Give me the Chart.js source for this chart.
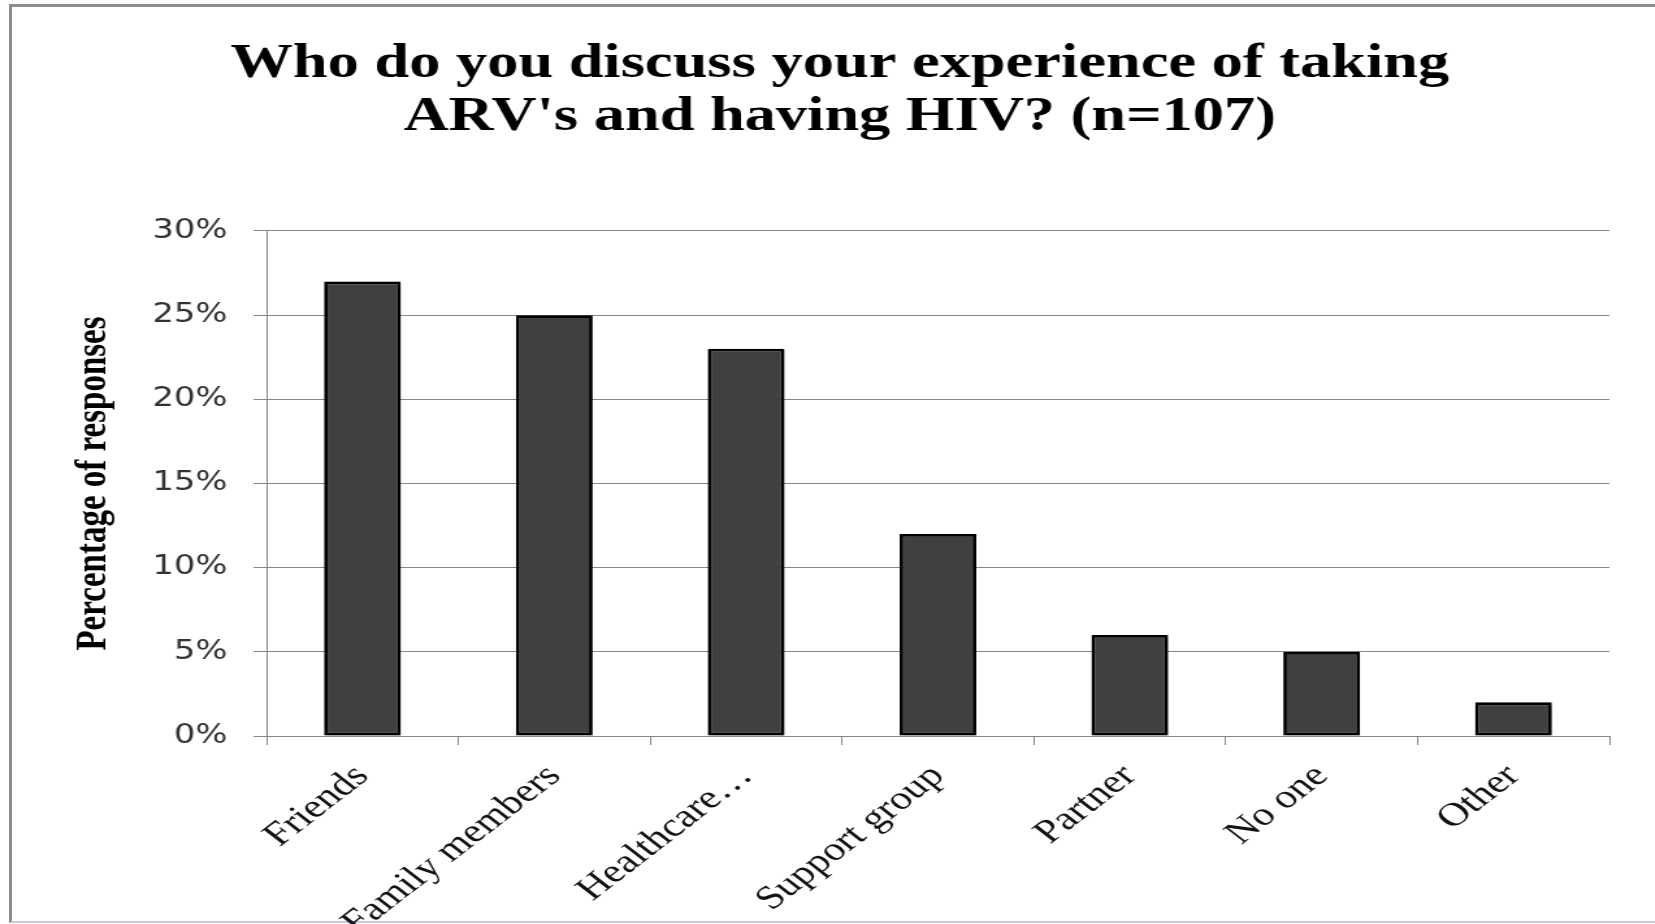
<!DOCTYPE html>
<html>
<head>
<meta charset="utf-8">
<script src="https://cdn.jsdelivr.net/npm/chart.js@4.4.1/dist/chart.umd.min.js"></script>
<style>
  html, body { margin: 0; padding: 0; background: #fff; overflow: hidden; width: 1655px; height: 924px; }
  #frame {
    position: absolute; left: 9px; top: 4px; width: 1700px; height: 914px;
    border-left: 3px solid #8c8c8c; border-top: 3px solid #8c8c8c; border-bottom: 2px solid #cfc6de;
  }
  /* the figure is drawn on a narrower canvas and widened to fill the frame */
  #chart { position: absolute; left: 0; top: 0; transform: scaleX(1.3); transform-origin: 0 0; }
</style>
</head>
<body>
<div id="frame"></div>
<canvas id="chart" width="1292" height="924"></canvas>
<script>
const titleLines = ["Who do you discuss your experience of taking", "ARV's and having HIV? (n=107)"];
const categories = ["Friends", "Family members", "Healthcare\u2026", "Support group", "Partner", "No one", "Other"];
const percentages = [27, 25, 23, 12, 6, 5, 2];
const yAxisTitle = "Percentage of responses";
const yTickValues = [0, 5, 10, 15, 20, 25, 30];

// soft drop shadow under the bars
const barShadow = {
  id: 'barShadow',
  beforeDatasetsDraw(chart) {
    const c = chart.ctx;
    c.save();
    c.shadowColor = 'rgba(0,0,0,0.35)';
    c.shadowBlur = 5;
    c.shadowOffsetX = 2;
    c.shadowOffsetY = 2;
  },
  afterDatasetsDraw(chart) { chart.ctx.restore(); }
};

new Chart(document.getElementById('chart'), {
  type: 'bar',
  data: {
    labels: categories,
    datasets: [{
      data: percentages,
      backgroundColor: '#404040',
      borderColor: '#000000',
      borderWidth: 2.8,
      borderSkipped: false,
      categoryPercentage: 1.0,
      barPercentage: 0.4
    }]
  },
  plugins: [barShadow],
  options: {
    responsive: false,
    animation: false,
    devicePixelRatio: 1,
    layout: { padding: { left: 54, right: 54, top: 0, bottom: 0 } },
    plugins: {
      legend: { display: false },
      tooltip: { enabled: false },
      title: {
        display: true,
        text: titleLines,
        color: '#000',
        font: { family: 'Liberation Serif', size: 48, weight: 'bold', lineHeight: 1.104 },
        padding: { top: 38.5, bottom: 86.5 }
      }
    },
    scales: {
      x: {
        grid: { display: true, drawOnChartArea: false, drawTicks: true, tickLength: 9, color: '#868686', lineWidth: 1, offset: true },
        border: { display: true, color: '#868686', width: 1 },
        ticks: {
          autoSkip: false, minRotation: 45, maxRotation: 45, padding: 12, color: '#111',
          font: { family: 'Liberation Serif', size: 33, lineHeight: 1.2 }
        },
        afterFit(scale) { scale.height = 188; }
      },
      y: {
        min: yTickValues[0],
        max: yTickValues[yTickValues.length - 1],
        afterBuildTicks(scale) { scale.ticks = yTickValues.map(v => ({ value: v })); },
        ticks: {
          padding: 20, color: '#333',
          font: { family: 'DejaVu Sans', size: 26 },
          callback: v => v + '%'
        },
        grid: { color: '#868686', lineWidth: 1, tickLength: 10, drawTicks: true },
        border: { display: true, color: '#868686', width: 1 },
        title: {
          display: true, text: yAxisTitle, color: '#000',
          font: { family: 'Liberation Serif', size: 33, weight: 'bold', lineHeight: 1 },
          padding: { top: 1.5, bottom: 0 }
        },
        afterFit(scale) { scale.width = 151; }
      }
    }
  }
});
</script>
</body>
</html>
